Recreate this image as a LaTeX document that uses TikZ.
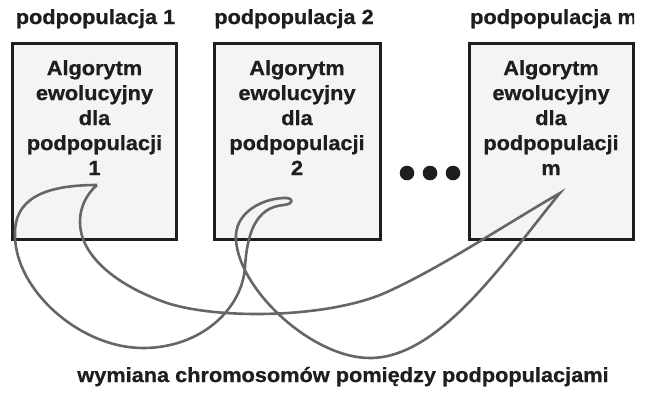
\documentclass[tikz,border=0pt]{standalone}
\usepackage{fontspec}
\setmainfont{Liberation Sans}[FakeStretch=1.06, FakeBold=0.8]
\usetikzlibrary{positioning}
\definecolor{boxfill}{HTML}{F4F4F4}
\definecolor{edge}{HTML}{1E1E1E}
\definecolor{swapgray}{HTML}{666666}

\begin{document}
\begin{tikzpicture}[x=1pt, y=-1pt,
    box/.style={draw=edge, line width=3pt, fill=boxfill, minimum width=164pt,
        minimum height=196pt, inner sep=0pt, outer sep=0pt},
    boxtext/.style={align=center, inner sep=0pt, text=edge, font=\fontsize{20.5}{25}\selectfont\bfseries},
    head/.style={anchor=base, inner sep=0pt, text=edge, font=\fontsize{20.5}{23}\selectfont\bfseries},
    swapline/.style={draw=swapgray, line width=2.6pt}]
    \useasboundingbox (0,0) rectangle (653,392);

    % Boxes of the subpopulations
    \node[box] (b1) at (94.5,141) {};
    \node[box, minimum width=166pt] (b2) at (297,141) {};
    \node[box] (b3) at (551,141) {};

    % Texts in the boxes
    \node[boxtext, below=17pt of b1.north] (t1) {Algorytm\\ewolucyjny\\dla\\podpopulacji\\1};
    \node[boxtext, below=17pt of b2.north] (t2) {Algorytm\\ewolucyjny\\dla\\podpopulacji\\2};
    \node[boxtext, below=17pt of b3.north] (t3) {Algorytm\\ewolucyjny\\dla\\podpopulacji\\m};

    % Headings
    \node[head] (h1) at (95.5,24) {podpopulacja 1};
    \node[head] (h2) at (294,24) {podpopulacja 2};
    \begin{scope}
        \clip (460,0) rectangle (634,40);
        \node[head, anchor=base west] (h3) at (470,24) {podpopulacja m};
    \end{scope}

    % Dots between box 2 and box m
    \foreach \x in {407,430,453}
        \fill[edge] (\x,173) circle (7.3pt);

    % Exchange of chromosomes (one closed loop through the boxes)
    \coordinate (tip1) at (97,185);
    \coordinate (tip3) at (560,193);
    \draw[swapline] (tip1) .. controls (42,185) and (14,200) .. (15,235)
        .. controls (15,290) and (80,348) .. (143,348)
        .. controls (200,348) and (242,310) .. (245,267)
        .. controls (247,235) and (255,207) .. (284,205)
        .. controls (294,204) and (294,197) .. (283,198)
        .. controls (262,199) and (237,212) .. (236,235)
        .. controls (234,285) and (310,358) .. (370,358)
        .. controls (440,358) and (505,260) .. (tip3)
        .. controls (500,228) and (440,268) .. (387,292)
        .. controls (330,318) and (220,320) .. (167,303)
        .. controls (115,285) and (80,255) .. (80,222)
        .. controls (80,205) and (88,193) .. (tip1);

    % Caption
    \node[head] (cap) at (343,382) {wymiana chromosomów pomiędzy podpopulacjami};
\end{tikzpicture}
\end{document}
